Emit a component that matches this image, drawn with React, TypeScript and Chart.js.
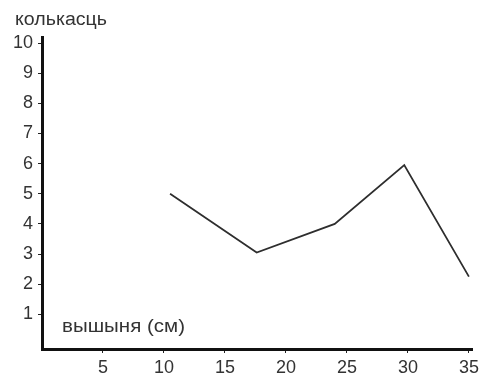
import React, { useEffect, useRef } from "react";
import { Chart, registerables } from "chart.js";

Chart.register(...registerables);

const heights = [10.5, 17.6, 24, 29.7, 35];
const counts = [5, 3.05, 4, 5.95, 2.25];
const xTicks = [5, 10, 15, 20, 25, 30, 35];
const yTicks = [1, 2, 3, 4, 5, 6, 7, 8, 9, 10];
const yTitle = "колькасць";
const xTitle = "вышыня (см)";

const FONT = "Liberation Sans, Arial, sans-serif";

function drawStretched(ctx: any, text: string, x: number, y: number, width: number) {
  const w = ctx.measureText(text).width;
  ctx.save();
  ctx.translate(x, y);
  ctx.scale(width / w, 1);
  ctx.fillText(text, 0, 0);
  ctx.restore();
}

const labelPlugin = {
  id: "labels",
  afterDraw(chart: any) {
    const ctx = chart.ctx;
    ctx.save();
    ctx.fillStyle = "#333";
    ctx.textAlign = "left";
    ctx.textBaseline = "alphabetic";
    ctx.font = `18px ${FONT}`;
    drawStretched(ctx, yTitle, 15, 25, 92);
    drawStretched(ctx, xTitle, 62, 332, 123);
    ctx.restore();
  },
};

export default function App() {
  const ref = useRef<HTMLCanvasElement | null>(null);
  useEffect(() => {
    document.body.style.margin = "0";
    const chart = new Chart(ref.current as HTMLCanvasElement, {
      type: "line",
      data: {
        datasets: [
          {
            data: heights.map((h, i) => ({ x: h, y: counts[i] })),
            borderColor: "#2e2e2e",
            borderWidth: 1.8,
            pointRadius: 0,
            tension: 0,
          },
        ],
      },
      options: {
        animation: false,
        responsive: false,
        plugins: { legend: { display: false }, tooltip: { enabled: false } },
        layout: { padding: { left: 0, top: 37, right: 10, bottom: 0 } },
        scales: {
          x: {
            type: "linear",
            min: 0,
            max: 35.3,
            afterBuildTicks: (s: any) => {
              s.ticks = xTicks.map((v) => ({ value: v }));
            },
            afterFit: (s: any) => {
              s.height = 29;
            },
            grid: { drawOnChartArea: false, drawTicks: true, tickLength: 4, color: "#222" },
            border: { display: true, color: "#111", width: 3 },
            ticks: { color: "#333", font: { family: FONT, size: 18 }, padding: 4, maxRotation: 0 },
          },
          y: {
            type: "linear",
            min: -0.15,
            max: 10.2,
            afterBuildTicks: (s: any) => {
              s.ticks = yTicks.map((v) => ({ value: v }));
            },
            afterFit: (s: any) => {
              s.width = 42;
            },
            grid: { drawOnChartArea: false, drawTicks: true, tickLength: 4, color: "#222" },
            border: { display: true, color: "#111", width: 3 },
            ticks: { color: "#333", font: { family: FONT, size: 18 }, padding: 5 },
          },
        },
      },
      plugins: [labelPlugin],
    } as any);
    return () => chart.destroy();
  }, []);
  return (
    <div style={{ position: "absolute", left: 0, top: 0, width: 483, height: 378, background: "#fff" }}>
      <canvas ref={ref} width={483} height={378} />
    </div>
  );
}
